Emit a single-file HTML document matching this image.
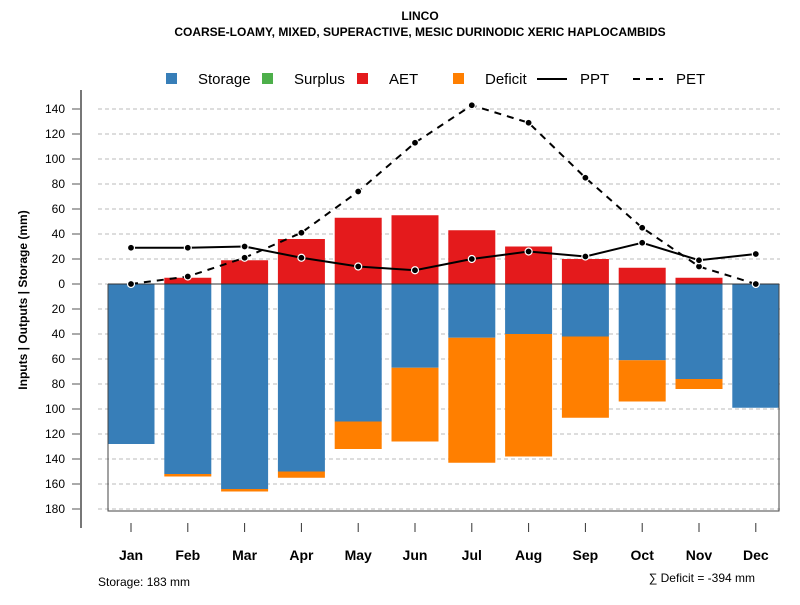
<!DOCTYPE html>
<html><head><meta charset="utf-8"><style>
body{margin:0;background:#fff}
text{font-family:"Liberation Sans",sans-serif}
</style></head><body>
<svg id="c" width="800" height="600">
<text x="420" y="20" text-anchor="middle" font-size="12" font-weight="bold">LINCO</text>
<text x="420" y="36" text-anchor="middle" font-size="12" font-weight="bold">COARSE-LOAMY, MIXED, SUPERACTIVE, MESIC DURINODIC XERIC HAPLOCAMBIDS</text>
<g>
<rect x="166" y="73" width="11" height="11" fill="#377eb8"/>
<text x="198" y="84" font-size="15">Storage</text>
<rect x="262" y="73" width="11" height="11" fill="#4daf4a"/>
<text x="294" y="84" font-size="15">Surplus</text>
<rect x="357" y="73" width="11" height="11" fill="#e41a1c"/>
<text x="389" y="84" font-size="15">AET</text>
<rect x="453" y="73" width="11" height="11" fill="#ff7f00"/>
<text x="485" y="84" font-size="15">Deficit</text>
<line x1="537" y1="79" x2="567" y2="79" stroke="#000" stroke-width="2"/>
<text x="580" y="84" font-size="15">PPT</text>
<line x1="633" y1="79" x2="663" y2="79" stroke="#000" stroke-width="2" stroke-dasharray="7,6"/>
<text x="676" y="84" font-size="15">PET</text>
</g>
<text transform="translate(27,300) rotate(-90)" text-anchor="middle" font-size="12" font-weight="bold">Inputs | Outputs | Storage    (mm)</text>
<text x="98" y="586" font-size="12">Storage: 183 mm</text>
<text x="755" y="582" text-anchor="end" font-size="12">∑ Deficit = -394 mm</text>
<g id="grid"></g><g id="bars"></g><g id="lines"></g><g id="axes"></g>
</svg>
<script>
const months=["Jan","Feb","Mar","Apr","May","Jun","Jul","Aug","Sep","Oct","Nov","Dec"];
const storage=[128,152,164,150,110,67,43,40,42,61,76,99];
const deficit=[0,2,2,5,22,59,100,98,65,33,8,0];
const aet=[0,5,19,36,53,55,43,30,20,13,5,0];
const ppt=[29,29,30,21,14,11,20,26,22,33,19,24];
const pet=[0,6,21,41,74,113,143,129,85,45,14,0];
const yTicks=[140,120,100,80,60,40,20,0,-20,-40,-60,-80,-100,-120,-140,-160,-180];
const NS="http://www.w3.org/2000/svg";
const y=v=>284-v*1.25;
const x=i=>131+i*56.8;
function mk(p,t,a){const e=document.createElementNS(NS,t);for(const k in a)e.setAttribute(k,a[k]);p.appendChild(e);return e;}
const G=document.getElementById('grid'),B=document.getElementById('bars'),L=document.getElementById('lines'),A=document.getElementById('axes');
yTicks.forEach(t=>{
 const g=mk(G,'line',{x1:98,x2:780,y1:y(t),y2:y(t),stroke:'#bbb','stroke-dasharray':'4,3'});
 
 
 const tk=mk(A,'line',{x1:72,x2:81,y1:y(t),y2:y(t),stroke:'#555'});
 
 
 const tx=mk(A,'text',{x:65,y:y(t)+4,'text-anchor':'end','font-size':12});
 tx.textContent=Math.abs(t);
 
 
});
const yax=mk(A,'line',{x1:81,x2:81,y1:90,y2:528,stroke:'#777','stroke-width':2});


const box=mk(A,'path',{d:'M108 284 V511 H779 V284',fill:'none',stroke:'#444'});


const w=47;
months.forEach((m,i)=>{
 const cx=x(i);
 if(aet[i]>0){const r=mk(B,'rect',{x:cx-w/2,y:y(aet[i]),width:w,height:aet[i]*1.25,fill:'#e41a1c'});
  
  }
 const s=mk(B,'rect',{x:cx-w/2,y:284,width:w,height:storage[i]*1.25,fill:'#377eb8'});
 
 
 if(deficit[i]>0){const d=mk(B,'rect',{x:cx-w/2,y:y(-storage[i]),width:w,height:deficit[i]*1.25,fill:'#ff7f00'});
  
  }
 const t=mk(A,'line',{x1:cx,x2:cx,y1:523,y2:532,stroke:'#333'});
 
 
 const tl=mk(A,'text',{x:cx,y:560,'text-anchor':'middle','font-size':14,'font-weight':'bold'});
 tl.textContent=m;
 
 
});
const zl=mk(B,'line',{x1:108,x2:779,y1:284,y2:284,stroke:'#333'});


function series(vals,name,dash){
 const p=mk(L,'polyline',{points:vals.map((v,i)=>x(i)+','+y(v)).join(' '),fill:'none',stroke:'#000','stroke-width':2,'stroke-dasharray':dash});
 
 
 vals.forEach((v,i)=>{const c=mk(L,'circle',{cx:x(i),cy:y(v),r:3.5,fill:'#000',stroke:'#fff','stroke-width':1.2});
  
  });
}
series(pet,'pet','7,6');
series(ppt,'ppt','none');
</script>
</body></html>
